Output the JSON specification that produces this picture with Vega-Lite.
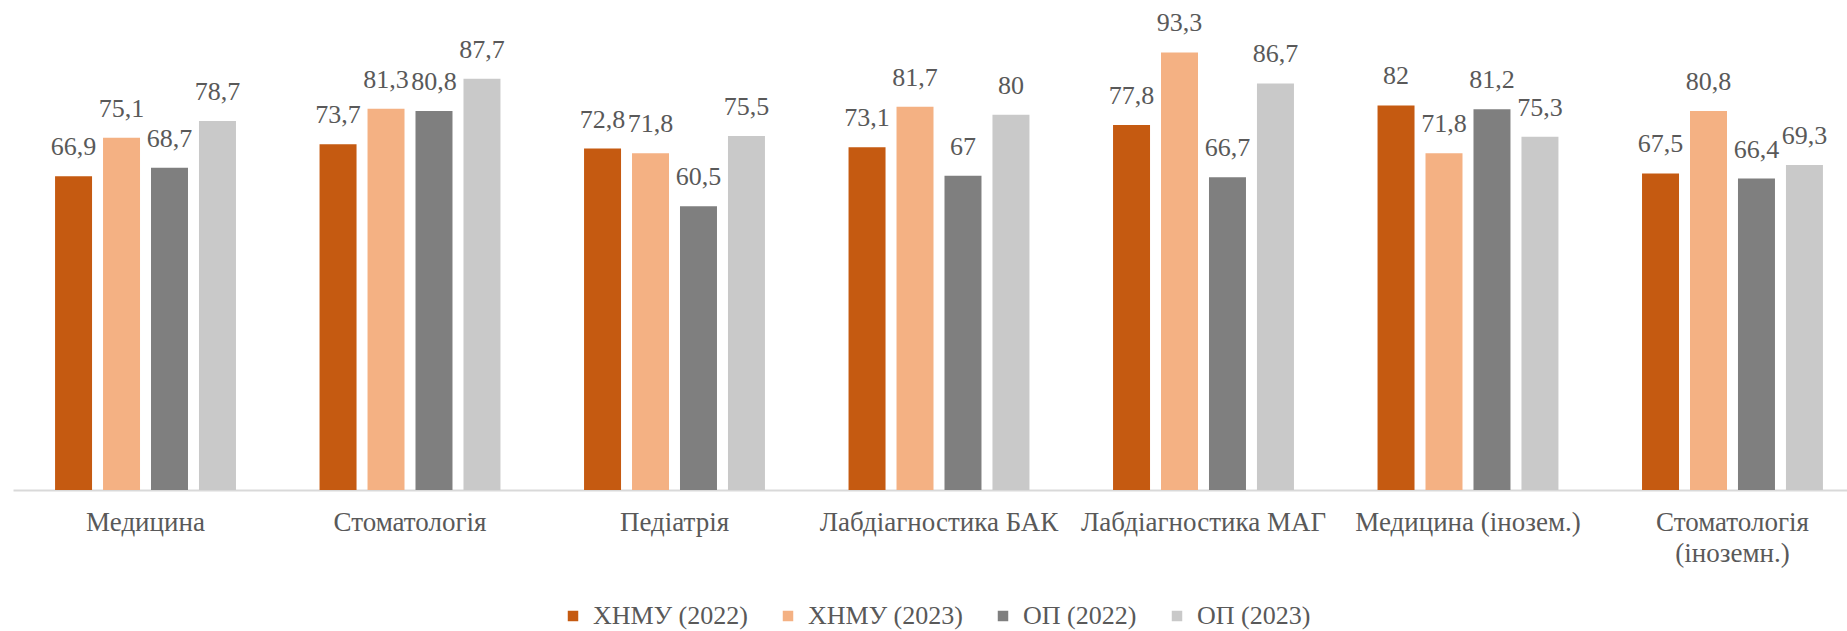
{
  "$schema": "https://vega.github.io/schema/vega-lite/v6.json",
  "autosize": {"type": "none"},
  "width": 1834,
  "height": 469,
  "padding": {"left": 13, "top": 21, "right": 0, "bottom": 141},
  "background": "white",
  "config": {"view": {"stroke": null}},
  "data": {"values": [
    {"program": "Медицина", "series": "ХНМУ (2022)", "value": 66.9},
    {"program": "Медицина", "series": "ХНМУ (2023)", "value": 75.1},
    {"program": "Медицина", "series": "ОП (2022)", "value": 68.7},
    {"program": "Медицина", "series": "ОП (2023)", "value": 78.7},
    {"program": "Стоматологія", "series": "ХНМУ (2022)", "value": 73.7},
    {"program": "Стоматологія", "series": "ХНМУ (2023)", "value": 81.3},
    {"program": "Стоматологія", "series": "ОП (2022)", "value": 80.8},
    {"program": "Стоматологія", "series": "ОП (2023)", "value": 87.7},
    {"program": "Педіатрія", "series": "ХНМУ (2022)", "value": 72.8},
    {"program": "Педіатрія", "series": "ХНМУ (2023)", "value": 71.8},
    {"program": "Педіатрія", "series": "ОП (2022)", "value": 60.5},
    {"program": "Педіатрія", "series": "ОП (2023)", "value": 75.5},
    {"program": "Лабдіагностика БАК", "series": "ХНМУ (2022)", "value": 73.1},
    {"program": "Лабдіагностика БАК", "series": "ХНМУ (2023)", "value": 81.7},
    {"program": "Лабдіагностика БАК", "series": "ОП (2022)", "value": 67},
    {"program": "Лабдіагностика БАК", "series": "ОП (2023)", "value": 80},
    {"program": "Лабдіагностика МАГ", "series": "ХНМУ (2022)", "value": 77.8},
    {"program": "Лабдіагностика МАГ", "series": "ХНМУ (2023)", "value": 93.3},
    {"program": "Лабдіагностика МАГ", "series": "ОП (2022)", "value": 66.7},
    {"program": "Лабдіагностика МАГ", "series": "ОП (2023)", "value": 86.7},
    {"program": "Медицина (інозем.)", "series": "ХНМУ (2022)", "value": 82},
    {"program": "Медицина (інозем.)", "series": "ХНМУ (2023)", "value": 71.8},
    {"program": "Медицина (інозем.)", "series": "ОП (2022)", "value": 81.2},
    {"program": "Медицина (інозем.)", "series": "ОП (2023)", "value": 75.3},
    {"program": "Стоматологія (іноземн.)", "series": "ХНМУ (2022)", "value": 67.5},
    {"program": "Стоматологія (іноземн.)", "series": "ХНМУ (2023)", "value": 80.8},
    {"program": "Стоматологія (іноземн.)", "series": "ОП (2022)", "value": 66.4},
    {"program": "Стоматологія (іноземн.)", "series": "ОП (2023)", "value": 69.3}
  ]},
  "transform": [
    {"calculate": "replace(format(datum.value, '.3~g'), '.', ',')", "as": "label"}
  ],
  "encoding": {
    "x": {
      "field": "program", "type": "nominal", "sort": null, "title": null,
      "scale": {"range": [0, 1852], "paddingInner": 0.316, "paddingOuter": 0.159},
      "axis": {
        "labelAngle": 0,
        "labelFont": "Liberation Serif",
        "labelFontSize": 27,
        "labelColor": "#595959",
        "labelPadding": 19,
        "labelLineHeight": 31,
        "labelLimit": 600,
        "labelOverlap": false,
        "labelBound": false,
        "labelFlush": false,
        "ticks": false,
        "domainColor": "#D9D9D9",
        "domainWidth": 2,
        "labelExpr": "datum.label == 'Стоматологія (іноземн.)' ? ['Стоматологія', '(іноземн.)'] : datum.label"
      }
    },
    "xOffset": {
      "field": "series", "type": "nominal",
      "sort": ["ХНМУ (2022)", "ХНМУ (2023)", "ОП (2022)", "ОП (2023)"],
      "scale": {"paddingInner": 0.229, "paddingOuter": 0}
    },
    "y": {
      "field": "value", "type": "quantitative",
      "scale": {"domain": [0, 100]},
      "axis": null
    }
  },
  "layer": [
    {
      "mark": {"type": "bar"},
      "encoding": {
        "color": {
          "field": "series", "type": "nominal",
          "scale": {
            "domain": ["ХНМУ (2022)", "ХНМУ (2023)", "ОП (2022)", "ОП (2023)"],
            "range": ["#C55A11", "#F4B183", "#7F7F7F", "#C9C9C9"]
          },
          "legend": {
            "title": null,
            "orient": "none",
            "direction": "horizontal",
            "legendX": 547,
            "legendY": 582,
            "padding": 0,
            "symbolType": "square",
            "symbolSize": 110,
            "symbolStrokeWidth": 0,
            "labelFont": "Liberation Serif",
            "labelFontSize": 26,
            "labelColor": "#595959",
            "labelOffset": 7,
            "columnPadding": 27,
            "labelLimit": 400
          }
        }
      }
    },
    {
      "mark": {
        "type": "text",
        "baseline": "alphabetic",
        "dy": -21,
        "font": "Liberation Serif",
        "fontSize": 26,
        "fill": "#595959"
      },
      "encoding": {"text": {"field": "label"}}
    }
  ]
}
